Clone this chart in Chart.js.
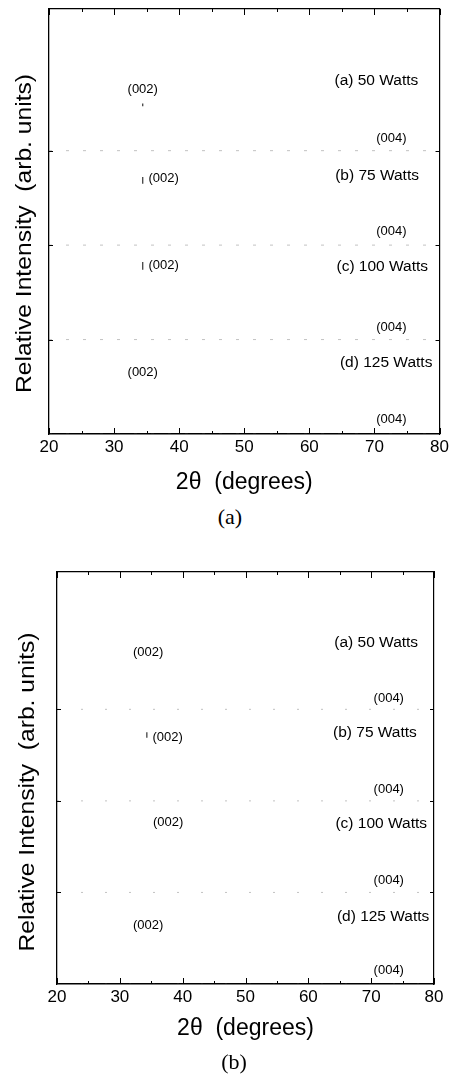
<!DOCTYPE html>
<html>
<head>
<meta charset="utf-8">
<script src="https://cdn.jsdelivr.net/npm/chart.js@4.4.0/dist/chart.umd.min.js"></script>
<style>
  body { margin: 0; background: #fff; width: 452px; height: 1079px; position: relative; overflow: hidden; }
  .panel { position: absolute; left: 0; width: 452px; }
  .caption { position: absolute; left: 0; width: 460px; text-align: center; line-height: 26px;
             font-family: "Liberation Serif", "Times New Roman", serif; font-size: 22px; color: #000; }
</style>
</head>
<body>
<div class="panel" style="top:0px;height:500px"><canvas id="chartA"></canvas></div>
<div class="caption" style="top:504px">(a)</div>
<div class="panel" style="top:540px;height:510px"><canvas id="chartB"></canvas></div>
<div class="caption" style="top:1049px;left:4px">(b)</div>
<script>
// shared axis values
const xMin = 20, xMax = 80;
const xTickValues = [20, 25, 30, 35, 40, 45, 50, 55, 60, 65, 70, 75, 80];
const xLabelValues = [20, 30, 40, 50, 60, 70, 80];
const yMin = 0, yMax = 4.5;
// stacked offsets of the four patterns (a) .. (d)
const traceOffsets = [3, 2, 1, 0];
const sampleNames = ["(a) 50 Watts", "(b) 75 Watts", "(c) 100 Watts", "(d) 125 Watts"];
// the scan has faded: only the baselines are left, from 20 to 80 degrees
const traceStartX = 20, traceEndX = 80;

// panel (a): where the text sits, in data units
const sampleXA = [70.3, 70.4, 71.2, 71.8];
const sampleYA = [3.74, 2.74, 1.77, 0.75];
const p002XA = [34.4, 37.6, 37.6, 34.4];
const p002YA = [3.65, 2.71, 1.78, 0.65];
const p004XA = [72.6, 72.6, 72.6, 72.6];
const p004YA = [3.13, 2.14, 1.13, 0.15];
// tips of the (002) peaks still visible in panel (a)
const peakTipXA = [34.4, 34.4, 34.4];
const peakTipLowA = [3.47, 2.65, 1.74];
const peakTipHighA = [3.50, 2.72, 1.82];

// panel (b)
const sampleXB = [70.8, 70.6, 71.6, 71.9];
const sampleYB = [3.73, 2.74, 1.75, 0.74];
const p002XB = [34.5, 37.6, 37.7, 34.5];
const p002YB = [3.62, 2.69, 1.77, 0.64];
const p004XB = [72.8, 72.8, 72.8, 72.8];
const p004YB = [3.12, 2.13, 1.13, 0.15];
const peakTipXB = [34.3];
const peakTipLowB = [2.69];
const peakTipHighB = [2.75];

const sans = '"Liberation Sans", Arial, sans-serif';
const ink = "#000";

// inward ticks on all four sides of the box
const boxTicks = {
  id: "boxTicks",
  afterDatasetsDraw(chart) {
    const { ctx, chartArea: a, scales } = chart;
    ctx.save();
    ctx.strokeStyle = ink;
    ctx.lineWidth = 1;
    ctx.beginPath();
    xTickValues.forEach(v => {
      const px = Math.round(scales.x.getPixelForValue(v)) + 0.5;
      const len = v % 10 === 0 ? 6 : 3;
      ctx.moveTo(px, a.bottom); ctx.lineTo(px, a.bottom - len);
      ctx.moveTo(px, a.top); ctx.lineTo(px, a.top + len);
    });
    traceOffsets.filter(v => v > 0).forEach(v => {
      const py = Math.round(scales.y.getPixelForValue(v)) + 0.5;
      ctx.moveTo(a.left, py); ctx.lineTo(a.left + 4, py);
      ctx.moveTo(a.right, py); ctx.lineTo(a.right - 4, py);
    });
    ctx.stroke();
    ctx.restore();
  }
};

// text labels placed through the scales, plus the y axis title
const peakLabels = {
  id: "peakLabels",
  afterDatasetsDraw(chart, args, opts) {
    const { ctx, scales, chartArea: a } = chart;
    ctx.save();
    ctx.fillStyle = ink;
    ctx.textAlign = "center";
    ctx.textBaseline = "middle";
    const put = (txt, x, y, size) => {
      ctx.font = size + "px " + sans;
      ctx.fillText(txt, scales.x.getPixelForValue(x), scales.y.getPixelForValue(y));
    };
    sampleNames.forEach((name, i) => {
      put(name, opts.sampleX[i], opts.sampleY[i], 15.5);
      put("(002)", opts.p002X[i], opts.p002Y[i], 13);
      put("(004)", opts.p004X[i], opts.p004Y[i], 13);
    });
    // y title, a little stretched along its length like the scan
    ctx.translate(opts.yTitleX, (a.top + a.bottom) / 2 + opts.yTitleShift);
    ctx.rotate(-Math.PI / 2);
    ctx.scale(1.12, 1);
    ctx.font = "22px " + sans;
    ctx.fillText("Relative Intensity  (arb. units)", 0, 0);
    ctx.restore();
  }
};

function makePanel(canvasId, p) {
  const datasets = traceOffsets.map((off, i) => ({
    label: sampleNames[i],
    data: [{ x: traceStartX, y: off }, { x: traceEndX, y: off }],
    borderColor: "rgba(80,80,80,0.35)",
    borderWidth: 1,
    borderDash: p.dash,
    pointRadius: 0
  }));
  p.tipX.forEach((x, i) => {
    datasets.push({
      label: "tip" + i,
      data: [{ x: x, y: p.tipLow[i] }, { x: x, y: p.tipHigh[i] }],
      borderColor: "#333",
      borderWidth: 1.2,
      pointRadius: 0
    });
  });

  new Chart(document.getElementById(canvasId), {
    type: "line",
    data: { datasets: datasets },
    options: {
      responsive: true,
      maintainAspectRatio: false,
      animation: false,
      layout: { padding: p.padding },
      plugins: {
        legend: { display: false },
        tooltip: { enabled: false },
        peakLabels: p.labels
      },
      scales: {
        x: {
          type: "linear", position: "bottom", min: xMin, max: xMax,
          afterBuildTicks: s => { s.ticks = xLabelValues.map(v => ({ value: v })); },
          afterFit: s => { s.height = p.xHeight; },
          grid: { drawOnChartArea: false, drawTicks: false },
          border: { color: ink, width: 1.6 },
          ticks: { color: ink, padding: 3, font: { family: sans, size: 17 } },
          title: { display: true, text: "2\u03b8  (degrees)", color: ink,
                   font: { family: sans, size: 23 }, padding: { top: 0, bottom: p.xTitlePad } }
        },
        x2: {
          type: "linear", position: "top", min: xMin, max: xMax,
          afterFit: s => { s.height = 0; },
          grid: { drawOnChartArea: false, drawTicks: false },
          border: { color: ink, width: 1.2 },
          ticks: { display: false }
        },
        y: {
          type: "linear", position: "left", min: yMin, max: yMax,
          afterFit: s => { s.width = p.yWidth; },
          grid: { drawOnChartArea: false, drawTicks: false },
          border: { color: ink, width: 1.3 },
          ticks: { display: false }
        },
        y2: {
          type: "linear", position: "right", min: yMin, max: yMax,
          afterFit: s => { s.width = 0; },
          grid: { drawOnChartArea: false, drawTicks: false },
          border: { color: ink, width: 1.2 },
          ticks: { display: false }
        }
      }
    },
    plugins: [boxTicks, peakLabels]
  });
}

makePanel("chartA", {
  padding: { top: 9, right: 12, left: 0, bottom: 0 },
  yWidth: 49, xHeight: 66, xTitlePad: 4,
  dash: [3, 14],
  tipX: peakTipXA, tipLow: peakTipLowA, tipHigh: peakTipHighA,
  labels: { sampleX: sampleXA, sampleY: sampleYA, p002X: p002XA, p002Y: p002YA, p004X: p004XA, p004Y: p004YA,
            yTitleX: 25, yTitleShift: 12 }
});

makePanel("chartB", {
  padding: { top: 32, right: 18, left: 0, bottom: 0 },
  yWidth: 57, xHeight: 66, xTitlePad: 8,
  dash: [2, 22],
  tipX: peakTipXB, tipLow: peakTipLowB, tipHigh: peakTipHighB,
  labels: { sampleX: sampleXB, sampleY: sampleYB, p002X: p002XB, p002Y: p002YB, p004X: p004XB, p004Y: p004YB,
            yTitleX: 28, yTitleShift: 14 }
});
</script>
</body>
</html>
